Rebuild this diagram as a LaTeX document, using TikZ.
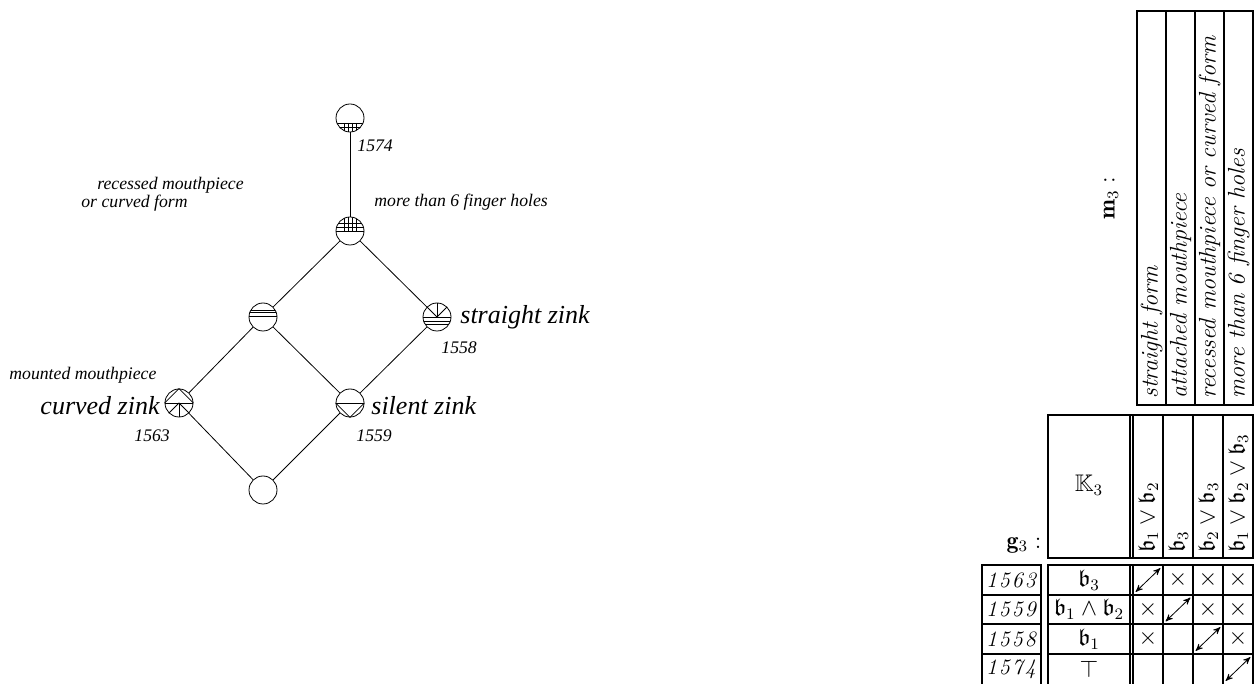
\documentclass[tikz,border=0pt]{standalone}
\usepackage{amssymb}
\usepackage{fontspec}
\newfontfamily\latfont{Liberation Serif}
\usepackage{tikz}
\usetikzlibrary{arrows, positioning}
\newcommand\spyear[4]{{\fontsize{11}{13}\selectfont\itshape#1\kern1pt#2\kern1pt#3\kern1pt#4}}
\tikzset{
>=stealth', % small arrow heads in the table
concept/.style={circle, draw, minimum size=14pt, inner sep=0pt}, % one lattice node
smalltext/.style={font=\latfont\itshape\fontsize{8.85}{9}\selectfont, inner sep=0pt},
bigtext/.style={font=\latfont\itshape\fontsize{13}{15}\selectfont, inner sep=0pt},
tabtext/.style={font=\fontsize{12}{14}\selectfont, inner sep=0pt},
frame/.style={line width=1.1pt},
rule/.style={line width=0.6pt},
cell/.style={minimum width=12pt, minimum height=11.5pt, inner sep=0pt},
}

\begin{document}
\begin{tikzpicture}[x=0.5pt, y=-0.5pt]
  \useasboundingbox (0,0) rectangle (1255,684);

  % lattice
  \node[concept] (n1574) at (350,118) {};
  \node[concept] (nholes) at (350,231) {};
  \node[concept] (nrecess) at (263,317) {};
  \node[concept] (nstraight) at (437,317) {};
  \node[concept] (ncurved) at (179,403) {};
  \node[concept] (nsilent) at (350,403) {};
  \node[concept] (nbottom) at (263,490) {};

  \path
  (n1574) edge (nholes)
  (nholes) edge (nrecess)
  (nholes) edge (nstraight)
  (nrecess) edge (ncurved)
  (nrecess) edge (nsilent)
  (nstraight) edge (nsilent)
  (ncurved) edge (nbottom)
  (nsilent) edge (nbottom);

  % glyphs inside the circles
  \begin{scope}
    \clip (n1574) circle (7pt);
    \draw ([yshift=-2.5pt]n1574.west) -- ++(14pt,0);
    \draw ([yshift=-4.5pt]n1574.west) -- ++(14pt,0);
    \foreach \dx in {-3,-1,1,3}
      \draw ([xshift=\dx pt, yshift=-2.5pt]n1574.center) -- ++(0,-6pt);
  \end{scope}
  \begin{scope}
    \clip (nholes) circle (7pt);
    \draw (nholes.west) -- (nholes.east);
    \draw ([yshift=2pt]nholes.west) -- ++(14pt,0);
    \draw ([yshift=4pt]nholes.west) -- ++(14pt,0);
    \foreach \dx in {-3,-1,1,3}
      \draw ([xshift=\dx pt]nholes.center) -- ++(0,8pt);
  \end{scope}
  \begin{scope}
    \clip (nrecess) circle (7pt);
    \draw ([yshift=3.5pt]nrecess.west) -- ++(14pt,0);
    \draw ([yshift=2.5pt]nrecess.west) -- ++(14pt,0);
    \draw ([yshift=0.5pt]nrecess.west) -- ++(14pt,0);
  \end{scope}
  \begin{scope}
    \clip (nstraight) circle (7pt);
    \draw (nstraight.west) -- (nstraight.east);
    \draw ([yshift=-2pt]nstraight.west) -- ++(14pt,0);
    \draw ([yshift=-3.5pt]nstraight.west) -- ++(14pt,0);
    \draw (nstraight.center) -- (nstraight.north);
    \draw (nstraight.center) -- (nstraight.north east);
    \draw (nstraight.center) -- (nstraight.north west);
  \end{scope}
  \draw (ncurved.west) -- (ncurved.east);
  \draw (ncurved.west) -- (ncurved.north) -- (ncurved.east);
  \draw (ncurved.center) -- (ncurved.south);
  \draw (ncurved.center) -- (ncurved.south east);
  \draw (ncurved.center) -- (ncurved.south west);
  \draw (nsilent.west) -- (nsilent.east);
  \draw (nsilent.west) -- (nsilent.south) -- (nsilent.east);

  % labels
  \node[smalltext, anchor=west] (l1574) at (357,146) {1574};
  \node[smalltext, anchor=west] (lholes) at (374,202) {more than 6 finger holes};
  \node[smalltext, anchor=west, align=left] (lrecess) at (81,194) {\hspace*{8pt}recessed mouthpiece\\or curved form};
  \node[bigtext, anchor=west] (lstraight) at (460,317) {straight zink};
  \node[smalltext, anchor=west] (l1558) at (441,348) {1558};
  \node[smalltext, anchor=west] (lmounted) at (9,375) {mounted mouthpiece};
  \node[bigtext, anchor=east] (lcurved) at (160,406) {curved zink};
  \node[smalltext, anchor=west] (l1563) at (134,436) {1563};
  \node[bigtext, anchor=west] (lsilent) at (371,406) {silent zink};
  \node[smalltext, anchor=west] (l1559) at (356,436) {1559};

  % attributes
  \draw[frame] (1137,11) rectangle (1253,405);
  \foreach \x in {1166,1195,1224}
    \draw[rule] (\x,11) -- (\x,405);
  \foreach \x/\txt in {1151.5/straight form, 1180.5/attached mouthpiece,
      1209.5/recessed mouthpiece or curved form, 1238.5/more than 6 finger holes}
    \node[tabtext, rotate=90, anchor=west] at (\x,399) {\itshape\txt};
  \node[tabtext, rotate=90] (m3) at (1111,198) {$\mathbf{m}_3:$};

  % header
  \draw[frame] (1048,415) rectangle (1253,558);
  \foreach \x in {1130,1133,1163,1193,1223}
    \draw[rule] (\x,415) -- (\x,558);
  \node[tabtext] (K3) at (1089,485) {$\mathbb{K}_3$};
  \foreach \x/\txt in {1148/{$\mathfrak{b}_1\vee\mathfrak{b}_2$}, 1178/{$\mathfrak{b}_3$},
      1208/{$\mathfrak{b}_2\vee\mathfrak{b}_3$}, 1238/{$\mathfrak{b}_1\vee\mathfrak{b}_2\vee\mathfrak{b}_3$}}
    \node[tabtext, rotate=90, anchor=west] at (\x,553) {\txt};
  \node[tabtext] (g3) at (1024,545) {$\mathbf{g}_3:$};

  % objects
  \draw[frame] (982,565) rectangle (1041,688);
  \draw[frame] (1048,565) rectangle (1253,688);
  \foreach \y in {595,624,654} {
    \draw[rule] (982,\y) -- (1041,\y);
    \draw[rule] (1048,\y) -- (1253,\y);
  }
  \foreach \x in {1130,1133,1163,1193,1223}
    \draw[rule] (\x,565) -- (\x,688);
  \foreach \y/\yr/\obj in {580/{\spyear1563}/{$\mathfrak{b}_3$},
      609.5/{\spyear1559}/{$\mathfrak{b}_1\wedge\mathfrak{b}_2$},
      639/{\spyear1558}/{$\mathfrak{b}_1$}, 669/{\spyear1574}/{$\top$}} {
    \node[tabtext] at (1011,\y) {\yr};
    \node[tabtext] at (1089,\y) {\obj};
  }

  % incidence
  \foreach \r/\cy in {1/580,2/609.5,3/639,4/669}
    \foreach \c/\cx in {1/1148,2/1178,3/1208,4/1238}
      \node[cell] (cell\r\c) at (\cx,\cy) {};
  \foreach \rc in {12,13,14,21,23,24,31,34}
    \node[tabtext] (x\rc) at (cell\rc) {$\times$};
  \foreach \rc in {11,22,33,44}
    \draw[<->] (cell\rc.south west) -- (cell\rc.north east);
\end{tikzpicture}
\end{document}
